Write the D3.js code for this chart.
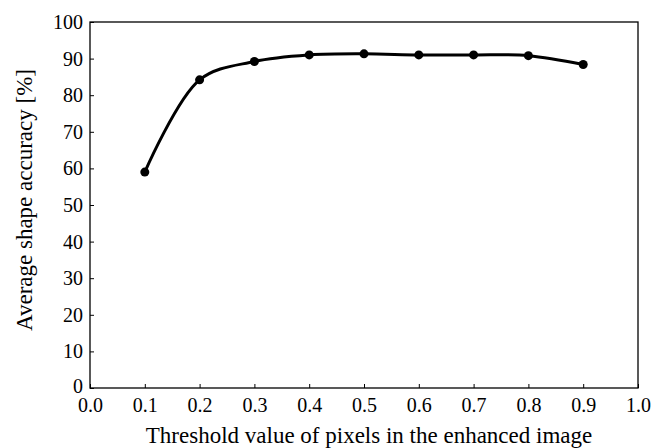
<!DOCTYPE html>
<html>
<head>
<meta charset="utf-8">
<script src="https://cdn.jsdelivr.net/npm/d3@7"></script>
<style>
  body { margin: 0; background: #fff; }
  svg text { font-family: "Liberation Serif", "Times New Roman", Times, serif; fill: #000; }
</style>
</head>
<body>
<div id="chart"></div>
<script>
const width = 664, height = 448;

// data
const thresholds = [0.1, 0.2, 0.3, 0.4, 0.5, 0.6, 0.7, 0.8, 0.9];
const accuracy = [59.0, 84.2, 89.2, 91.0, 91.3, 91.0, 91.0, 90.8, 88.4];
const xTicks = [0, 0.1, 0.2, 0.3, 0.4, 0.5, 0.6, 0.7, 0.8, 0.9, 1.0];
const yTicks = [0, 10, 20, 30, 40, 50, 60, 70, 80, 90, 100];

const serif = '"Liberation Serif", "Times New Roman", Times, serif';
const margin = {top: 22, right: 26, bottom: 60, left: 90};

const svg = d3.select("#chart").append("svg")
  .attr("width", width)
  .attr("height", height);

const x = d3.scaleLinear().domain([0, 1]).range([margin.left, width - margin.right]);
const y = d3.scaleLinear().domain([0, 100]).range([height - margin.bottom, margin.top]);

// frame
svg.append("rect")
  .attr("x", x(0)).attr("y", y(100))
  .attr("width", x(1) - x(0)).attr("height", y(0) - y(100))
  .attr("fill", "none").attr("stroke", "#000").attr("stroke-width", 1.3);

// axes, ticks pointing inward
const xAxis = svg.append("g")
  .attr("transform", `translate(0,${y(0)})`)
  .call(d3.axisBottom(x).tickValues(xTicks).tickFormat(d3.format(".1f")).tickSize(-4).tickPadding(10));

const yAxis = svg.append("g")
  .attr("transform", `translate(${x(0)},0)`)
  .call(d3.axisLeft(y).tickValues(yTicks).tickSize(-4).tickPadding(7));

[xAxis, yAxis].forEach(g => {
  g.attr("font-family", null);
  g.select(".domain").remove();
  g.selectAll(".tick line").attr("stroke", "#000").attr("stroke-width", 1);
  g.selectAll("text").style("font-size", "20px").style("font-family", serif);
});

// "0" sits a touch higher so it clears "0.0" below it
yAxis.selectAll(".tick text").filter(d => d === 0).attr("dy", "0.2em");

// line
const pts = thresholds.map((t, i) => [t, accuracy[i]]);
const line = d3.line()
  .x(d => x(d[0]))
  .y(d => y(d[1]))
  .curve(d3.curveCatmullRom.alpha(0.5));

svg.append("path")
  .datum(pts)
  .attr("d", line)
  .attr("fill", "none")
  .attr("stroke", "#000")
  .attr("stroke-width", 3);

svg.selectAll("circle.pt")
  .data(pts)
  .enter()
  .append("circle")
  .attr("class", "pt")
  .attr("cx", d => x(d[0]))
  .attr("cy", d => y(d[1]))
  .attr("r", 4.5)
  .attr("fill", "#000");

// axis titles
svg.append("text")
  .attr("x", (x(0) + x(1)) / 2 + 5)
  .attr("y", 443)
  .attr("text-anchor", "middle")
  .style("font-size", "23px")
  .style("font-family", serif)
  .text("Threshold value of pixels in the enhanced image");

svg.append("text")
  .attr("transform", `translate(32,200) rotate(-90)`)
  .attr("text-anchor", "middle")
  .style("font-size", "23px")
  .style("font-family", serif)
  .text("Average shape accuracy [%]");
</script>
</body>
</html>
